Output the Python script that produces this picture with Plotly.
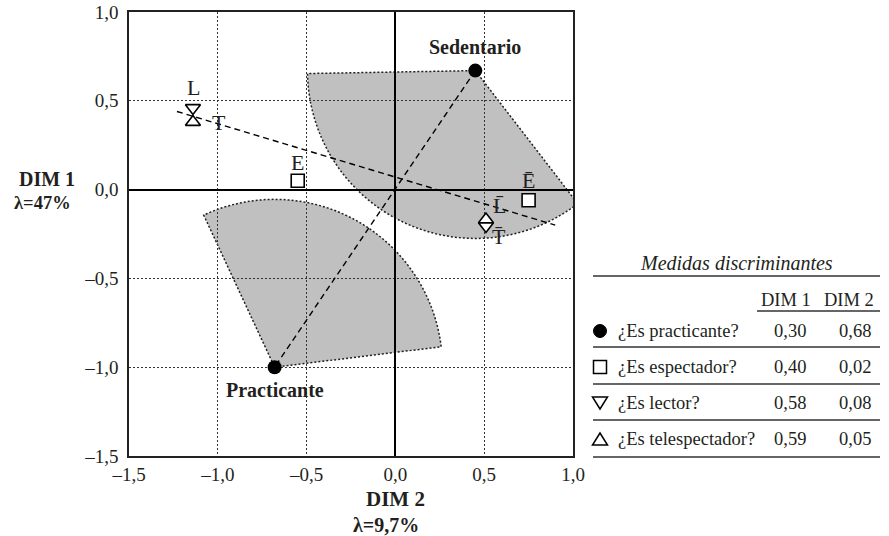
import numpy as np
import plotly.graph_objects as go

# Coordenadas de las categorías (DIM 2 en horizontal, DIM 1 en vertical)
grupo_nombres = ["Sedentario", "Practicante"]
grupo_x = [0.45, -0.68]
grupo_y = [0.67, -1.00]

# Espectador: sí (E) / no (Ē)
espectador_etiquetas = ["E", "E\u0304"]
espectador_x = [-0.55, 0.75]
espectador_y = [0.05, -0.06]

# Lector: sí (L) / no (L̄)
lector_etiquetas = ["L", "L\u0304"]
lector_x = [-1.14, 0.51]
lector_y = [0.46, -0.205]

# Telespectador: sí (T) / no (T̄)
tele_etiquetas = ["T", "T\u0304"]
tele_x = [-1.14, 0.51]
tele_y = [0.38, -0.168]

# Recta que resume las variables de medios
recta_x = [-1.23, 0.90]
recta_y = [0.44, -0.20]

# Sectores sombreados alrededor de cada grupo (radio y ángulos en grados)
sector_radio = 0.945
sector_angulos = [(181.0, 307.6), (7.0, 115.0)]

# Tabla de medidas discriminantes
variables = ["¿Es practicante?", "¿Es espectador?", "¿Es lector?", "¿Es telespectador?"]
dim1_medidas = [0.30, 0.40, 0.58, 0.59]
dim2_medidas = [0.68, 0.02, 0.08, 0.05]

# Ejes
ticks_valores = [-1.5, -1.0, -0.5, 0.0, 0.5, 1.0]
ticks_texto = ["–1,5", "–1,0", "–0,5", "0,0", "0,5", "1,0"]
titulo_x = ["DIM 2", "λ=9,7%"]
titulo_y = ["DIM 1", "λ=47%"]

SERIF = "Liberation Serif"
INK = "#231f20"

W, H = 889, 536
L_M, R_M, T_M, B_M = 129, 316, 12, 80
PW, PH = W - L_M - R_M, H - T_M - B_M


def px(xp):
    return (xp - L_M) / PW


def py(yp):
    return (H - B_M - yp) / PH


def coma(v):
    return f"{v:.2f}".replace(".", ",")


def nota(xp, yp, text, font, xanchor="center"):
    return dict(x=px(xp), y=py(yp), xref="paper", yref="paper", showarrow=False,
                xanchor=xanchor, yanchor="middle", text=text, font=font)


fig = go.Figure()

# Sectores (debajo de la cuadrícula)
shapes = []
for (cx, cy), (a0, a1) in zip(zip(grupo_x, grupo_y), sector_angulos):
    th = np.radians(np.linspace(a0, a1, 80))
    xs = cx + sector_radio * np.cos(th)
    ys = cy + sector_radio * np.sin(th)
    path = f"M {cx},{cy} " + " ".join(f"L {x:.4f},{y:.4f}" for x, y in zip(xs, ys)) + " Z"
    shapes.append(dict(type="path", path=path, xref="x", yref="y", layer="below",
                       fillcolor="#c0c0c0", line=dict(color=INK, width=1.5, dash="2px,2px")))

# Líneas discontinuas
fig.add_trace(go.Scatter(x=grupo_x, y=grupo_y, mode="lines",
                         line=dict(color="black", width=1.4, dash="6px,4px"),
                         hoverinfo="skip", showlegend=False))
fig.add_trace(go.Scatter(x=recta_x, y=recta_y, mode="lines",
                         line=dict(color="black", width=1.4, dash="6px,4px"),
                         hoverinfo="skip", showlegend=False))

# Marcadores
fig.add_trace(go.Scatter(x=grupo_x, y=grupo_y, mode="markers",
                         marker=dict(symbol="circle", size=14, color="black"),
                         showlegend=False))
fig.add_trace(go.Scatter(x=espectador_x, y=espectador_y, mode="markers",
                         marker=dict(symbol="square", size=13, color="white",
                                     line=dict(color="black", width=1.6)),
                         showlegend=False))
fig.add_trace(go.Scatter(x=lector_x, y=lector_y, mode="markers",
                         marker=dict(symbol="triangle-down", size=13, color="white",
                                     line=dict(color="black", width=1.6)),
                         showlegend=False))
fig.add_trace(go.Scatter(x=tele_x, y=tele_y, mode="markers",
                         marker=dict(symbol="triangle-up", size=13, color="white",
                                     line=dict(color="black", width=1.6)),
                         showlegend=False))

ann = []
# Etiquetas de los grupos
grupo_shift = [24, -23]
for n, x, y, s in zip(grupo_nombres, grupo_x, grupo_y, grupo_shift):
    ann.append(dict(x=x, y=y, xref="x", yref="y", text=f"<b>{n}</b>", showarrow=False,
                    xanchor="center", yanchor="middle",
                    yshift=s, font=dict(family=SERIF, size=20, color=INK)))

# Etiquetas de las categorías de medios
letra = dict(family=SERIF, size=22, color=INK)
for t, x, y, xs, ys in zip(espectador_etiquetas, espectador_x, espectador_y, [0, 0], [18, 20]):
    ann.append(dict(x=x, y=y, xref="x", yref="y", text=t, showarrow=False,
                    xanchor="center", yanchor="middle", xshift=xs, yshift=ys, font=letra))
for t, x, y, xs, ys in zip(lector_etiquetas, lector_x, lector_y, [1, 14], [20, 21]):
    ann.append(dict(x=x, y=y, xref="x", yref="y", text=t, showarrow=False,
                    xanchor="center", yanchor="middle", xshift=xs, yshift=ys, font=letra))
for t, x, y, xs, ys in zip(tele_etiquetas, tele_x, tele_y, [26, 13], [0, -17]):
    ann.append(dict(x=x, y=y, xref="x", yref="y", text=t, showarrow=False,
                    xanchor="center", yanchor="middle", xshift=xs, yshift=ys, font=letra))

# Títulos de los ejes
ann.append(nota(395, 499, f"<b>{titulo_x[0]}</b>", dict(family=SERIF, size=21, color=INK)))
ann.append(nota(386, 525, f"<b>{titulo_x[1]}</b>", dict(family=SERIF, size=20, color=INK)))
ann.append(nota(47, 179, f"<b>{titulo_y[0]}</b>", dict(family=SERIF, size=20, color=INK)))
ann.append(nota(42, 203, f"<b>{titulo_y[1]}</b>", dict(family=SERIF, size=18.5, color=INK)))

# Tabla de medidas discriminantes
tab = dict(family=SERIF, size=18.5, color=INK)
ann.append(nota(736, 263, "<i>Medidas discriminantes</i>", dict(family=SERIF, size=20, color=INK)))
ann.append(nota(786, 300, "DIM 1", tab))
ann.append(nota(849, 300, "DIM 2", tab))

fila_y = [331, 367, 403, 439]
for v, d1, d2, ry in zip(variables, dim1_medidas, dim2_medidas, fila_y):
    ann.append(nota(616, ry, v, tab, xanchor="left"))
    ann.append(nota(790, ry, coma(d1), tab))
    ann.append(nota(855, ry, coma(d2), tab))

# Reglas horizontales de la tabla
for yl, x0 in [(276, 593), (311, 757), (347, 593), (384, 593), (420, 593), (457, 593)]:
    shapes.append(dict(type="line", xref="paper", yref="paper",
                       x0=px(x0), x1=px(880), y0=py(yl), y1=py(yl),
                       line=dict(color="#333333", width=1.5)))

# Símbolos de la tabla
cxs = 600
r = 6.5
shapes.append(dict(type="circle", xref="paper", yref="paper",
                   x0=px(cxs - r), x1=px(cxs + r), y0=py(fila_y[0] + r), y1=py(fila_y[0] - r),
                   fillcolor="black", line=dict(color="black", width=1)))
shapes.append(dict(type="rect", xref="paper", yref="paper",
                   x0=px(cxs - 6.5), x1=px(cxs + 6.5), y0=py(fila_y[1] + 6.5), y1=py(fila_y[1] - 6.5),
                   fillcolor="white", line=dict(color="black", width=1.5)))
tri_dn = (f"M {px(cxs - 7.5)},{py(fila_y[2] - 6)} L {px(cxs + 7.5)},{py(fila_y[2] - 6)} "
          f"L {px(cxs)},{py(fila_y[2] + 6)} Z")
tri_up = (f"M {px(cxs - 7.5)},{py(fila_y[3] + 6)} L {px(cxs + 7.5)},{py(fila_y[3] + 6)} "
          f"L {px(cxs)},{py(fila_y[3] - 6)} Z")
for p in (tri_dn, tri_up):
    shapes.append(dict(type="path", xref="paper", yref="paper", path=p,
                       fillcolor="white", line=dict(color="black", width=1.5)))

axis_common = dict(
    range=[-1.5, 1.0], tickvals=ticks_valores, ticktext=ticks_texto,
    showgrid=True, gridcolor="#333333", gridwidth=1, griddash="2px,2px",
    zeroline=True, zerolinecolor="black", zerolinewidth=2,
    showline=True, linecolor="#222222", linewidth=1.5, mirror=True,
    ticks="", tickfont=dict(family=SERIF, size=19, color=INK), fixedrange=True,
    automargin=False,
)

fig.update_layout(
    width=W, height=H,
    margin=dict(l=L_M, r=R_M, t=T_M, b=B_M),
    paper_bgcolor="white", plot_bgcolor="white",
    xaxis=dict(**axis_common),
    yaxis=dict(**axis_common, ticklabelstandoff=5),
    shapes=shapes, annotations=ann,
    showlegend=False,
)

fig.write_html("out.html")
